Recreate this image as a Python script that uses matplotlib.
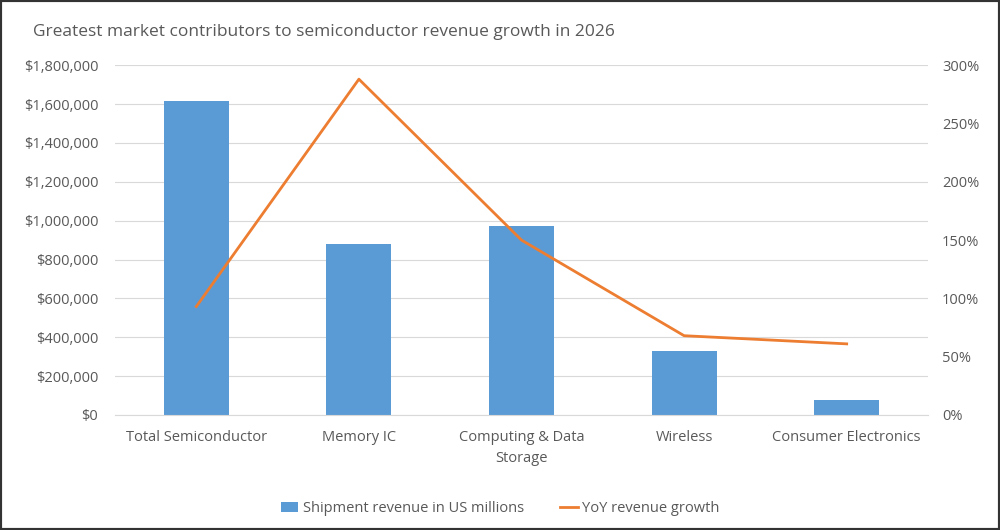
import numpy as np
import matplotlib.pyplot as plt
from matplotlib.ticker import FuncFormatter

# Data
categories = ["Total Semiconductor", "Memory IC", "Computing & Data\nStorage",
              "Wireless", "Consumer Electronics"]
revenue = [1615000, 880000, 975000, 330000, 78000]  # US millions
yoy_growth = [93, 288, 150, 68, 61]  # percent

plt.rcParams['font.family'] = ['Open Sans', 'DejaVu Sans']
txt = '#595959'

fig = plt.figure(figsize=(10, 5.3), dpi=100)
ax = fig.add_axes([0.115, 0.217, 0.813, 0.66])
ax2 = ax.twinx()

x = np.arange(len(categories))
ax.bar(x, revenue, width=0.4, color='#5B9BD5', zorder=2,
       label='Shipment revenue in US millions')
ax2.plot(x, yoy_growth, color='#ED7D31', lw=2, zorder=3,
         label='YoY revenue growth')

ax.set_xlim(-0.5, len(categories) - 0.5)
ax.set_ylim(0, 1800000)
ax.set_yticks(np.arange(0, 1800001, 200000))
ax.yaxis.set_major_formatter(FuncFormatter(lambda v, p: f"${v:,.0f}"))
ax2.set_ylim(0, 300)
ax2.set_yticks(np.arange(0, 301, 50))
ax2.yaxis.set_major_formatter(FuncFormatter(lambda v, p: f"{v:.0f}%"))

ax.grid(axis='y', color='#D9D9D9', lw=0.8, zorder=0)
ax.set_xticks(x)
ax.set_xticklabels(categories, fontsize=10.5, color=txt, linespacing=1.5)
for a in (ax, ax2):
    for s in a.spines.values():
        s.set_visible(False)
    a.tick_params(length=0, labelsize=10.5, labelcolor=txt)
ax.spines['bottom'].set_visible(True)
ax.spines['bottom'].set_color('#D9D9D9')
ax.tick_params(axis='y', pad=12)
ax.tick_params(axis='x', pad=11)
ax2.tick_params(axis='y', pad=10)

fig.text(0.033, 0.94, "Greatest market contributors to semiconductor revenue growth in 2026",
         fontsize=12.5, color=txt, ha='left', va='center')

h1, l1 = ax.get_legend_handles_labels()
h2, l2 = ax2.get_legend_handles_labels()
fig.legend(h1 + h2, l1 + l2, loc='center', bbox_to_anchor=(0.5, 0.04), ncol=2,
           frameon=False, fontsize=10.5, labelcolor=txt, handlelength=1.2,
           handletextpad=0.3, columnspacing=2.5)

# dark frame around the image
fig.patches.append(plt.Rectangle((0, 0), 1, 1, transform=fig.transFigure,
                                 fill=False, ec='#333333', lw=3))

fig.savefig('out.png', dpi=100)
